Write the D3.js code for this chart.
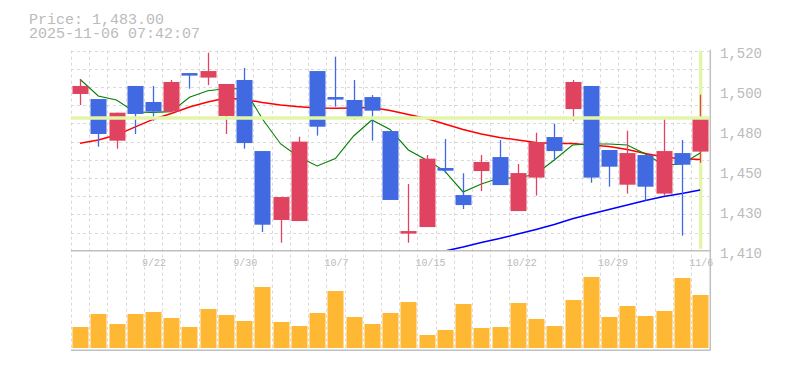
<!DOCTYPE html>
<html>
<head>
<meta charset="utf-8">
<script src="https://cdn.jsdelivr.net/npm/d3@7"></script>
<style>
  html, body { margin: 0; padding: 0; background: #fff; }
  svg { display: block; }
  text { font-family: "Liberation Mono", "DejaVu Sans Mono", monospace; fill: #bbbbbb; }
</style>
</head>
<body>
<svg id="chart" width="785" height="370"></svg>
<script>
// ---- data ----
const dates = ["9/16","9/17","9/18","9/19","9/22","9/24","9/25","9/26","9/29","9/30",
               "10/1","10/2","10/3","10/6","10/7","10/8","10/9","10/10","10/14","10/15",
               "10/16","10/17","10/20","10/21","10/22","10/23","10/24","10/27","10/28","10/29",
               "10/30","10/31","11/4","11/5","11/6"];
const openP  = [1496.2,1493.4,1470.5,1500.6,1491.8,1486.5,1507.7,1505.2,1484.1,1503.9,
                1464.8,1426.9,1426.3,1508.8,1494.5,1492.9,1494.5,1475.8,1419.4,1423.0,
                1455.5,1440.6,1453.8,1461.5,1431.8,1450.2,1472.5,1487.9,1500.6,1465.4,
                1446.3,1462.6,1441.4,1463.7,1464.5];
const highP  = [1504.3,1493.4,1485.9,1500.6,1500.6,1503.9,1507.7,1518.9,1501.7,1510.5,
                1464.8,1439.5,1472.7,1508.8,1516.7,1503.9,1495.6,1475.8,1446.7,1462.6,
                1471.4,1452.6,1462.6,1470.9,1457.7,1474.9,1479.9,1503.9,1500.6,1465.4,
                1476.0,1462.6,1482.6,1470.9,1495.8];
const lowP   = [1490.1,1467.2,1466.1,1474.2,1481.5,1486.5,1499.1,1501.1,1474.2,1466.1,
                1420.3,1414.4,1426.3,1473.3,1489.2,1481.9,1470.5,1437.9,1414.4,1423.0,
                1452.6,1432.9,1442.8,1446.1,1431.8,1440.3,1459.5,1481.5,1447.4,1445.2,
                1441.4,1437.5,1440.3,1418.3,1458.4];
const closeP = [1500.6,1474.2,1485.9,1485.2,1486.5,1502.8,1506.3,1508.8,1501.7,1469.2,
                1424.3,1439.5,1470.0,1478.2,1493.1,1483.2,1487.0,1437.9,1420.8,1460.6,
                1454.0,1435.1,1458.8,1446.1,1452.7,1469.8,1464.8,1502.8,1450.2,1456.2,
                1463.7,1445.2,1464.8,1457.3,1483.0];
const volume = [21,34,24,34,36,30,21,39,33,27,
                61,26,22,35,57,31,24,35,46,13,
                18,44,20,21,45,29,22,48,71,31,
                42,32,37,70,53];
const maShort = [1504.3,1495.1,1492.9,1486.3,1486.1,1486.5,1494.4,1498.0,1499.1,1499.1,
                 1482.4,1468.7,1461.5,1456.6,1460.7,1473.1,1481.9,1476.7,1465.4,1459.9,
                 1453.8,1442.3,1446.7,1450.0,1450.0,1452.2,1459.9,1468.1,1468.7,1468.7,
                 1468.1,1463.2,1457.1,1457.7,1463.7];
const maMid   = [1469.1,1470.9,1473.6,1478.0,1482.2,1485.5,1489.0,1491.8,1494.0,1493.2,
                 1491.5,1490.1,1489.2,1488.5,1488.3,1488.5,1488.8,1487.1,1484.9,1482.7,
                 1479.7,1476.7,1474.2,1472.3,1470.9,1469.5,1469.0,1469.0,1468.1,1467.3,
                 1465.7,1463.5,1461.5,1460.6,1460.2];
const maLong  = [null,null,null,null,null,null,null,null,null,null,
                 null,null,null,null,null,null,null,null,null,null,
                 1409.8,1412.0,1414.5,1416.7,1419.2,1421.7,1424.4,1427.6,1430.2,1432.7,
                 1435.1,1437.6,1439.8,1441.5,1443.4];
const lastPrice = 1483.00;
const timestamp = "2025-11-06 07:42:07";
const yTickValues = [1410,1432,1454,1476,1498,1520];
const yTickLabels = ["1,410","1,430","1,450","1,480","1,500","1,520"];
const xTickLabels = ["9/22","9/30","10/7","10/15","10/22","10/29","11/6"];
const priceDomain = [1410,1520];
const gridStep = 10;
const volumeDomain = [0,100];

// ---- layout ----
const svg = d3.select("#chart");
const L = 70.9, R = 709.3;
const pTop = 50.7, pBot = 250.7;
const vTop = 250.7, vBot = 350.3, vBase = 348;

const x = d3.scaleBand().domain(dates).range([L, R]).paddingInner(0).paddingOuter(0);
const bw = 16;
const cx = d => x(d) + x.bandwidth() / 2;
const y = d3.scaleLinear().domain(priceDomain).range([pBot, pTop]);
const yv = d3.scaleLinear().domain(volumeDomain).range([vBase, vBase - 100]);

const gridColor = "#d9d9d9";
const axisColor = "#c0c0c0";

// clip
svg.append("defs").append("clipPath").attr("id", "pclip")
  .append("rect").attr("x", L).attr("y", pTop).attr("width", R - L).attr("height", pBot - pTop);

// horizontal grid (price)
const gridVals = d3.range(priceDomain[0] + gridStep, priceDomain[1] + 0.1, gridStep);
svg.append("g").selectAll("line").data(gridVals).join("line")
  .attr("x1", L).attr("x2", R)
  .attr("y1", d => Math.round(y(d)) + 0.5).attr("y2", d => Math.round(y(d)) + 0.5)
  .attr("stroke", gridColor).attr("stroke-dasharray", "3,3");

// vertical grid (band edges) in price & volume panels
const edges = dates.map(d => x(d));
svg.append("g").selectAll("line").data(edges).join("line")
  .attr("x1", d => Math.round(d) + 0.5).attr("x2", d => Math.round(d) + 0.5)
  .attr("y1", pTop).attr("y2", vBot)
  .attr("stroke", gridColor).attr("stroke-dasharray", "3,3");

// last-price vertical marker (behind candles)
const lastDate = dates[dates.length - 1];
svg.append("line")
  .attr("x1", cx(lastDate) + 0.5).attr("x2", cx(lastDate) + 0.5)
  .attr("y1", pTop).attr("y2", pBot - 2)
  .attr("stroke", "#e3f5a8").attr("stroke-width", 3.5);

// moving averages (behind candles)
const lineGen = d3.line()
  .defined(d => d.v != null)
  .x(d => cx(d.d)).y(d => y(d.v));
const maG = svg.append("g").attr("clip-path", "url(#pclip)");
[[maLong, "#0000ff", 1.5], [maMid, "#ff0000", 1.5], [maShort, "#008000", 1.1]].forEach(([arr, col, w]) => {
  maG.append("path")
    .datum(dates.map((d, i) => ({ d, v: arr[i] })))
    .attr("d", lineGen)
    .attr("fill", "none").attr("stroke", col).attr("stroke-width", w);
});

// candles
const upCol = "#e0435f", downCol = "#4169e1";
const candles = dates.map((d, i) => ({ d, o: openP[i], h: highP[i], l: lowP[i], c: closeP[i] }));
const cg = svg.append("g");
cg.selectAll("line").data(candles).join("line")
  .attr("x1", d => Math.round(cx(d.d)) + 0.5).attr("x2", d => Math.round(cx(d.d)) + 0.5)
  .attr("y1", d => y(d.h)).attr("y2", d => y(d.l))
  .attr("stroke", d => d.c >= d.o ? upCol : downCol).attr("stroke-width", 1.3);
cg.selectAll("rect").data(candles).join("rect")
  .attr("x", d => Math.round(cx(d.d)) - bw / 2 + 0.5).attr("width", bw)
  .attr("y", d => y(Math.max(d.o, d.c)))
  .attr("height", d => Math.max(2.5, Math.abs(y(d.o) - y(d.c))))
  .attr("fill", d => d.c >= d.o ? upCol : downCol);

// last-price horizontal marker
svg.append("line")
  .attr("x1", L).attr("x2", R)
  .attr("y1", y(lastPrice)).attr("y2", y(lastPrice))
  .attr("stroke", "#e3f5a8").attr("stroke-width", 3.5);

// volume bars
svg.append("g").selectAll("rect").data(dates).join("rect")
  .attr("x", d => Math.round(cx(d)) - bw / 2 + 0.5).attr("width", bw)
  .attr("y", (d, i) => yv(volume[i]))
  .attr("height", (d, i) => vBase - yv(volume[i]))
  .attr("fill", "#ffb833");

// frame lines
const frame = svg.append("g").attr("stroke", axisColor).attr("stroke-width", 1.5);
frame.append("line").attr("x1", L).attr("x2", 710.5).attr("y1", pBot).attr("y2", pBot);
frame.append("line").attr("x1", L).attr("x2", 710.5).attr("y1", vBot).attr("y2", vBot);
frame.append("line").attr("x1", 710.3).attr("x2", 710.3).attr("y1", pTop - 1).attr("y2", vBot);

// y axis labels
const yAxis = d3.axisRight(y).tickValues(yTickValues)
  .tickFormat((d, i) => yTickLabels[i]).tickSize(0).tickPadding(0);
const ya = svg.append("g").attr("transform", "translate(720,0)").call(yAxis);
ya.select(".domain").remove();
ya.selectAll("text").attr("dy", "0.5em").style("font-size", "14px")
  .style("font-family", "'Liberation Mono', monospace").attr("fill", "#bbbbbb");

// x axis labels
svg.append("g").selectAll("text").data(xTickLabels).join("text")
  .attr("x", d => cx(d) - 11).attr("y", 266)
  .attr("text-anchor", "start")
  .style("font-size", "10px")
  .text(d => d);

// title
svg.append("text").attr("x", 29).attr("y", 23.5).style("font-size", "15px")
  .text("Price: " + d3.format(",.2f")(lastPrice));
svg.append("text").attr("x", 29).attr("y", 38).style("font-size", "15px")
  .text(timestamp);
</script>
</body>
</html>
